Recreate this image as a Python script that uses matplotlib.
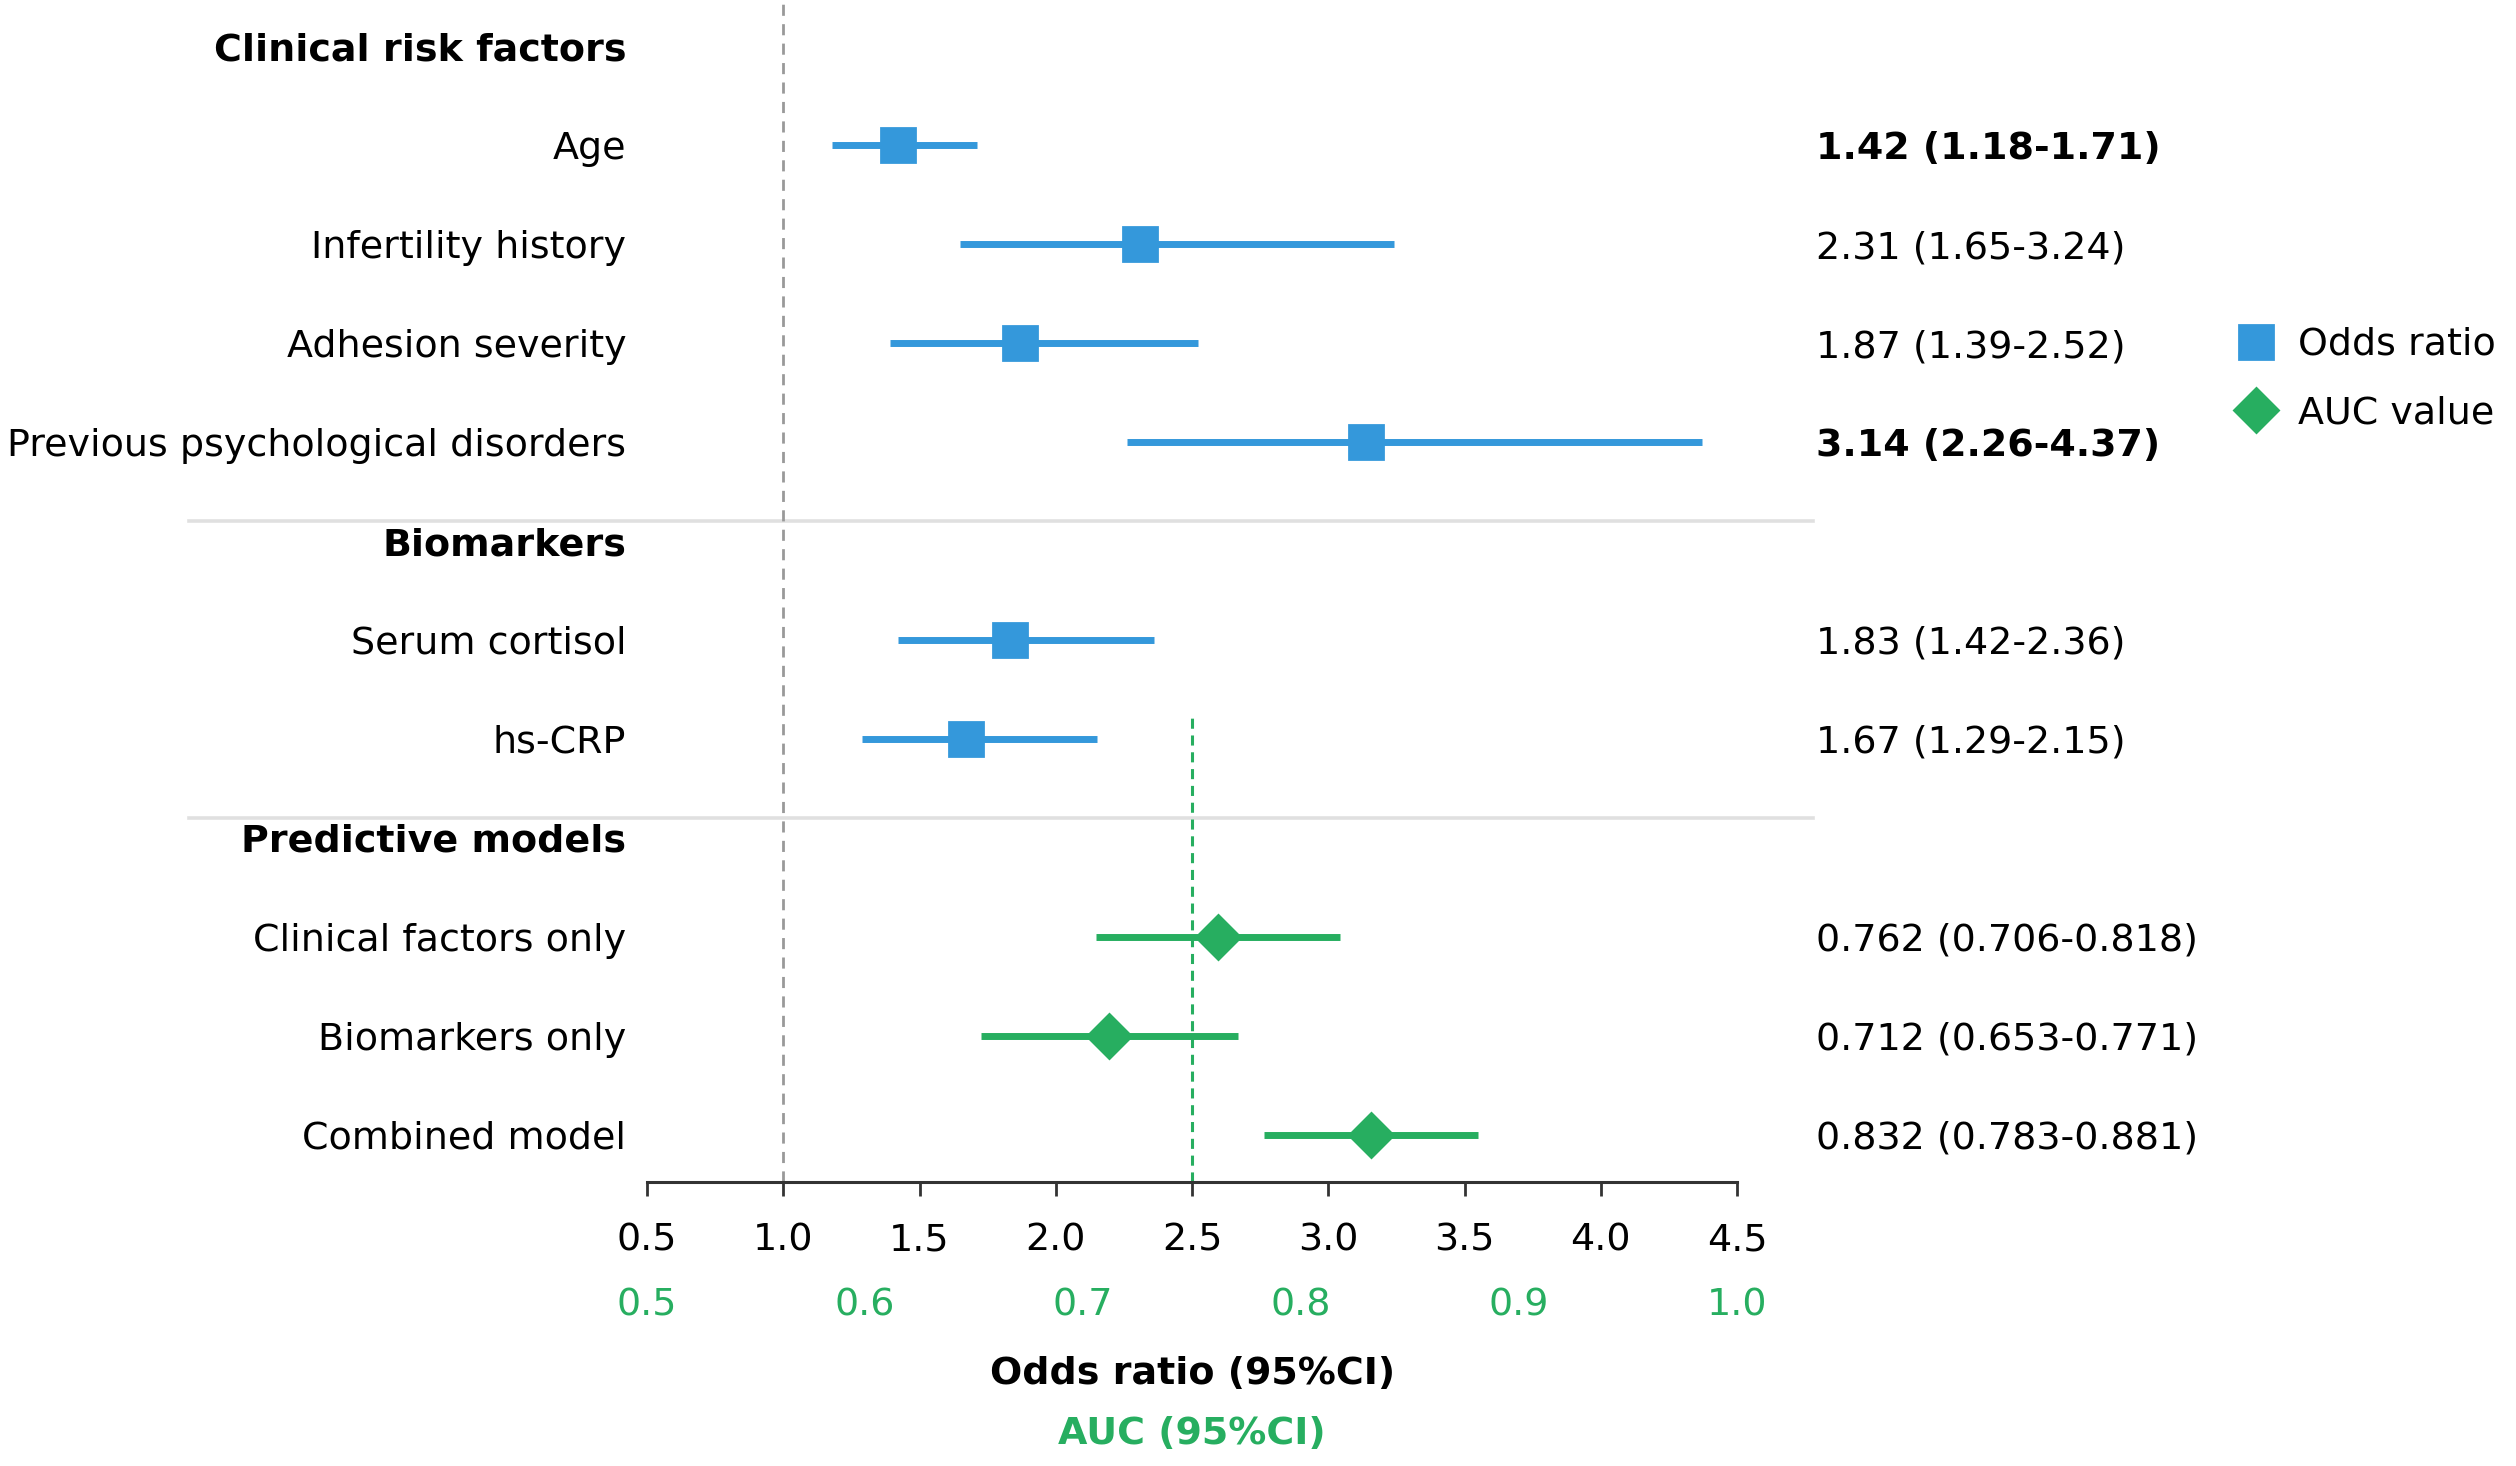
import numpy as np
import matplotlib
matplotlib.use("Agg")
from matplotlib import pyplot as plt
from matplotlib.lines import Line2D

# datos del forest plot
row_labels = ["Clinical risk factors", "Age", "Infertility history", "Adhesion severity",
              "Previous psychological disorders", "Biomarkers", "Serum cortisol", "hs-CRP",
              "Predictive models", "Clinical factors only", "Biomarkers only", "Combined model"]
header_rows = [0, 5, 8]

or_rows = [1, 2, 3, 4, 6, 7]
or_est = [1.42, 2.31, 1.87, 3.14, 1.83, 1.67]
or_lo = [1.18, 1.65, 1.39, 2.26, 1.42, 1.29]
or_hi = [1.71, 3.24, 2.52, 4.37, 2.36, 2.15]
or_bold = [True, False, False, True, False, False]

auc_rows = [9, 10, 11]
auc_est = [0.762, 0.712, 0.832]
auc_lo = [0.706, 0.653, 0.783]
auc_hi = [0.818, 0.771, 0.881]

or_ticks = [0.5, 1.0, 1.5, 2.0, 2.5, 3.0, 3.5, 4.0, 4.5]
auc_ticks = [0.5, 0.6, 0.7, 0.8, 0.9, 1.0]
auc_ref = 0.75
or_ref = 1.0

blue = "#3498db"
green = "#27ae60"
fs = 13.7

plt.rcParams['font.family'] = ['DejaVu Sans']


def auc2or(a):
    return 0.5 + (np.asarray(a) - 0.5) * 8


def or2auc(x):
    return 0.5 + (np.asarray(x) - 0.5) / 8


fig = plt.figure(figsize=(12.58, 7.33), dpi=200)
ax = fig.add_axes([0.2572, 0.1937, 0.4332, 0.8063])

# lineas de referencia
ax.axvline(or_ref, color="#999999", lw=1.0, dashes=(4, 3), zorder=1)
ymin, ymax = 11.48, -0.47
ax.axvline(auc2or(auc_ref), ymin=0, ymax=(ymin - 6.74) / (ymin - ymax),
           color=green, lw=1.1, dashes=(3.3, 2.2), zorder=1)

# separadores entre secciones
for r in header_rows[1:]:
    ax.plot([-1.18, 4.78], [r - 0.2, r - 0.2], color="#e0e0e0", lw=1.3, clip_on=False, zorder=0)

# odds ratios
for r, e, lo, hi, b in zip(or_rows, or_est, or_lo, or_hi, or_bold):
    ax.plot([lo, hi], [r, r], color=blue, lw=2.5, solid_capstyle="butt", zorder=2)
    ax.plot(e, r, marker="s", ms=12, color=blue, zorder=3)
    ax.text(4.79, r, "%.2f (%.2f-%.2f)" % (e, lo, hi), va="center_baseline", ha="left",
            fontsize=fs, fontweight="bold" if b else "normal", clip_on=False)

# AUC
for r, e, lo, hi in zip(auc_rows, auc_est, auc_lo, auc_hi):
    ax.plot(auc2or([lo, hi]), [r, r], color=green, lw=2.5, solid_capstyle="butt", zorder=2)
    ax.plot(auc2or(e), r, marker="D", ms=11, color=green, zorder=3)
    ax.text(4.79, r, "%.3f (%.3f-%.3f)" % (e, lo, hi), va="center_baseline", ha="left",
            fontsize=fs, clip_on=False)

ax.set_xlim(0.5, 4.5)
ax.set_ylim(ymin, ymax)
ax.set_yticks(range(len(row_labels)))
ax.set_yticklabels(row_labels, fontsize=fs)
for i, t in enumerate(ax.get_yticklabels()):
    if i in header_rows:
        t.set_fontweight("bold")
ax.tick_params(axis="y", length=0, pad=7.5)

ax.set_xticks(or_ticks)
ax.set_xticklabels(["%.1f" % t for t in or_ticks], fontsize=fs)
ax.tick_params(axis="x", length=5, width=1.0, color="#333333", pad=9.5)

for s in ["top", "right", "left"]:
    ax.spines[s].set_visible(False)
ax.spines["bottom"].set_color("#333333")
ax.spines["bottom"].set_linewidth(1.1)

sec = ax.secondary_xaxis("bottom", functions=(or2auc, auc2or))
sec.set_xticks(auc_ticks)
sec.set_xticklabels(["%.1f" % t for t in auc_ticks], fontsize=fs, color=green)
sec.tick_params(axis="x", length=0, pad=38)
sec.spines["bottom"].set_visible(False)

ax.text(2.5, -0.162, "Odds ratio (95%CI)", transform=ax.get_xaxis_transform(),
        ha="center", va="center", fontsize=fs, fontweight="bold")
ax.text(2.5, -0.213, "AUC (95%CI)", transform=ax.get_xaxis_transform(),
        ha="center", va="center", fontsize=fs, fontweight="bold", color=green)

handles = [Line2D([], [], marker="s", ms=12, color=blue, ls="none"),
           Line2D([], [], marker="D", ms=11, color=green, ls="none")]
fig.legend(handles, ["Odds ratio", "AUC value"], loc="center left",
           bbox_to_anchor=(0.883, 1 - 379 / 1466), frameon=False, fontsize=fs,
           handlelength=1.0, handletextpad=0.6, labelspacing=0.85, borderaxespad=0)

fig.savefig("out.png", dpi=200)
